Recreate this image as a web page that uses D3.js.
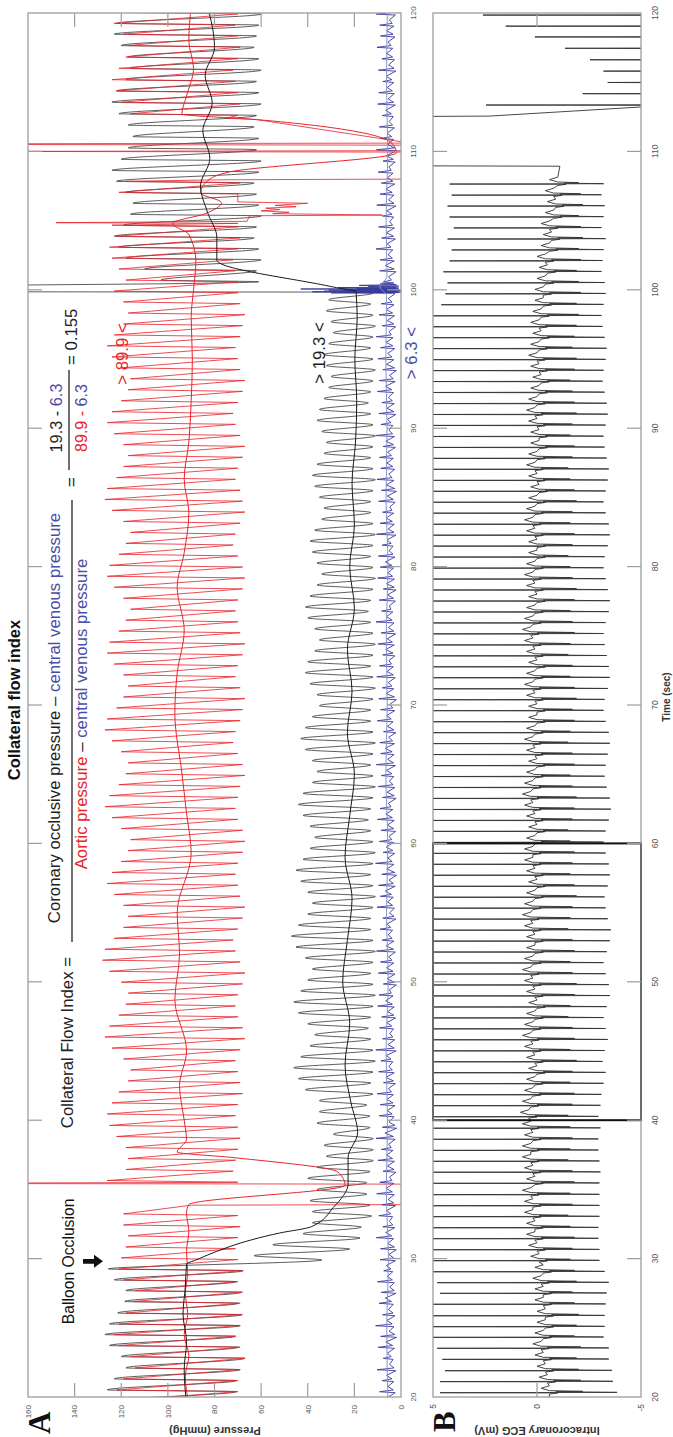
<!DOCTYPE html>
<html><head><meta charset="utf-8">
<script src="https://cdn.jsdelivr.net/npm/d3@7"></script>
<style>
html,body{margin:0;padding:0;background:#fff;}
svg{display:block;}
text{font-family:Arial,"Liberation Sans",sans-serif;}
text.letter{font-family:"Liberation Serif","Times New Roman",serif;}
</style></head><body>
<svg id="chart" width="673" height="1437"></svg>
<script>
// ---- beat-by-beat recording data ----
const beatTimes = [19.52,20.31,21.11,21.90,22.72,23.52,24.31,25.08,25.87,26.70,27.49,28.26,29.05,29.85,30.64,31.44,32.23,33.03,33.82,34.62,35.44,36.24,37.03,37.82,38.62,39.42,40.25,41.05,
41.84,42.64,43.43,44.22,45.01,45.81,46.60,47.39,48.18,48.98,
49.77,50.56,51.36,52.15,52.94,53.73,54.53,55.32,56.11,56.90,
57.70,58.49,59.28,60.07,60.87,61.66,62.45,63.25,64.04,64.83,
65.62,66.42,67.21,68.00,68.79,69.59,70.38,71.17,71.97,72.76,
73.55,74.34,75.14,75.93,76.72,77.51,78.31,79.10,79.89,80.69,
81.48,82.27,83.06,83.86,84.65,85.44,86.23,87.03,87.82,88.61,
89.40,90.20,90.99,91.78,92.58,93.37,94.16,94.95,95.75,96.54,
97.33,98.12,98.92,99.71,100.50,101.30,102.09,102.88,103.67,104.47,
105.26,106.05,106.84,107.64,108.43,
109.23,110.05,110.87,111.70,112.52,
113.35,114.17,114.98,115.80,116.62,117.45,118.27,119.05,119.85];

// aortic pressure (mmHg) per beat
const aoSys = [120,122,119,114,116,121,123,121,118,115,114,119,121,
120,118,117,119,119,118,120,126,118,117,118,122,125,126,124,
121,117,116,119,124,127,125,121,118,117,
120,125,128,127,123,119,117,119,123,126,
124,120,117,116,120,124,127,125,121,118,
117,120,124,127,126,122,119,117,119,123,
126,125,121,118,116,119,123,126,125,121,
118,116,119,124,127,126,122,119,117,119,
123,126,124,120,117,116,120,124,126,123,
119,117,119,123,
118,121,124,125,122,124,120,118,121,118,117,118,117,116,119,116,120,122,124,121,118,117,119,123,125];
const aoDia = [69,70,70,69,67,69,71,69,68,69,68,70,68,
70,71,70,69,70,70,70,70,72,71,70,69,70,71,70,
68,69,70,71,69,67,68,70,71,70,
68,67,69,71,72,70,68,67,69,70,
71,70,68,67,68,70,71,70,69,67,
68,70,72,71,69,68,67,69,71,70,
68,67,69,70,71,70,68,67,68,70,
72,71,69,67,68,69,71,70,68,67,
69,71,72,70,68,67,69,70,71,69,
68,67,69,70,
70,71,72,70,69,70,71,72,70,69,70,71,70,72,71,70,69,70,71,72,70,69,70,71,70];

// coronary (distal) pressure (mmHg) per beat
const coSys = [124,126,123,118,120,125,127,125,121.5,118.5,118,123,125.5,
63,55,42,38,38,39,36,40,36,32,33,29,36,35,35,
41,44,46,43,39,37,40,44,46,43,
40,38,41,45,47,44,40,38,40,43,
45,42,39,37,39,42,44,42,38,36,
38,41,43,41,38,35,36,39,41,40,
37,35,37,40,41,39,36,34,36,38,
39,37,34,33,35,37,38,36,33,32,
34,36,35,33,31,30,32,33,31,29,
30,32,31,30,
103,110,118,121,123,119,116,115,118,122,124,120,117,115,117,121,124,122,118,116,117,120,123,122,119];
const coDia = [69.5,70.5,70.5,69,67,69.8,71,69,68.4,69.8,68.4,70.5,67.7,
34,22,17.6,17,12.6,13.3,14.7,14.7,13.3,11.9,11.9,11.9,13.3,13.3,14.7,
12,13,12,11,12,13,14,13,12,11,
12,13,12,11,12,13,13,12,11,12,
13,12,11,12,13,14,13,12,11,12,
13,12,11,12,13,13,12,11,12,13,
12,11,12,13,14,13,12,11,12,13,
12,11,12,13,13,12,11,12,13,12,
11,12,13,14,13,12,11,12,13,12,
11,12,13,12,
61,62,60,61,63,62,60,61,62,63,61,60,62,61,63,62,60,61,62,60,61,63,62,61,60];

// central venous pressure (mmHg) per beat
const cvpLo = [2.7,2.5,3.1,2.2,3.4,2.8,1.9,3.0,2.6,3.3,2.1,
2.9,3.5,2.4,2.0,3.2,2.7,3.6,2.3,2.9,3.1,
2.2,2.8,3.4,2.5,1.8,3.0,2.6,3.3,2.4,2.9,
3.5,2.1,2.7,3.2,2.3,2.9,3.4,2.0,2.6,3.1,
2.4,3.0,3.6,2.2,2.8,3.3,2.5,1.9,3.0,2.7,
3.2,2.3,2.9,3.5,2.1,2.6,3.1,2.4,3.0,2.8,
2.2,3.4,2.7,2.0,3.1,2.5,3.3,2.6,2.9,2.3,
3.0,3.5,2.4,2.1,2.8,3.2,2.6,3.4,2.2,2.9,
3.1,2.5,1.9,3.0,2.7,3.3,2.4,2.8,3.5,2.2,
2.9,3.2,2.5,2.0,3.1,2.7,3.4,2.3,2.8,3.0,
2.6,3.3,2.1,2.9,3.5,2.4,2.8,3.1,2.2,3.0,
2.7,3.4,2.5,2.0,3.2,2.8,3.3,2.4,2.9,3.1,
2.2,2.8,3.5,2.6,3.0,2.4];
const cvpA = [8.8,9.2,8.1,10.3,7.6,9.8,8.7,10.9,7.9,9.4,8.5,
10.1,7.4,9.0,8.8,10.6,7.8,9.5,8.2,10.4,9.1,
7.7,9.9,8.4,10.7,8.0,9.3,8.9,10.2,7.5,9.6,
8.6,10.8,7.9,9.2,8.3,10.0,9.4,7.6,9.7,8.8,
10.5,8.1,9.0,7.8,10.3,8.9,9.6,8.2,10.9,7.7,
9.3,8.6,10.1,9.0,7.9,9.8,8.4,10.6,8.7,9.1,
7.5,10.2,8.8,9.5,8.0,10.4,9.2,7.8,9.9,8.5,
10.7,8.3,9.4,7.6,10.0,8.9,9.7,8.1,10.5,9.0,
7.9,9.6,8.4,10.3,8.7,9.2,7.7,10.8,8.6,9.5,
8.2,10.1,9.3,7.8,9.9,8.8,10.6,8.0,9.4,8.5,
10.2,7.6,9.1,8.9,10.7,8.3,9.6,7.9,10.4,9.0,
8.4,9.8,7.7,10.5,8.6,9.3,8.1,10.0,9.5,7.8,
9.7,8.2,10.3,8.8,9.1,10.6];
const cvpV = [5.7,5.6,6.2,4.9,5.8,6.5,5.1,6.0,5.4,6.7,4.8,
5.9,6.3,5.2,5.7,6.6,5.0,6.1,5.5,6.4,4.9,
5.8,6.2,5.3,6.8,5.1,5.9,6.0,5.4,6.5,5.2,
6.3,5.6,4.8,6.1,5.7,6.6,5.0,5.9,6.2,5.3,
6.4,5.5,6.0,4.9,5.8,6.7,5.2,6.1,5.6,6.3,
5.1,5.9,6.5,5.4,6.0,5.0,6.2,5.7,6.8,5.3,
5.8,6.1,4.9,6.4,5.5,6.0,5.2,6.6,5.9,5.4,
6.3,5.0,5.8,6.2,5.6,6.7,5.1,6.0,5.5,6.4,
4.8,5.9,6.3,5.3,6.1,5.7,6.5,5.2,5.8,6.0,
5.4,6.6,5.0,6.2,5.7,6.4,5.1,5.9,6.3,5.5,
6.0,5.3,6.8,5.6,5.9,6.2,4.9,6.1,5.4,6.5,
5.8,5.2,6.3,5.7,6.0,5.1,6.6,5.5,5.9,6.4,
5.3,6.1,5.6,6.2,5.0,5.8];

// smoothed (mean) pressures: [time s, mmHg]
const aoMean = [[19.5,91],[21.5,92.5],[23,91],[24.5,93],[26,91.5],[27.5,92.5],[29,91.5],[30.5,92],[32,91],[33.3,92],[33.9,91],
[35.3,24],[36.25,27],[37.3,72],[37.7,96],[38.6,92],[40,93],[42.5,95],[45,92],[48.7,97],[52,95],[55,96],[59.3,90],[62.2,92],
[65.1,94],[69.4,97],[72.3,96],[75.4,93],[78.5,96],[81,93],[83.9,91],[86.3,93],[89,91],[92,90],[95,89.5],[98,90],[100,89],
[102,88],[104,91],[104.8,98],[105.5,84],[106.3,77],[107,86],[108,82],[108.5,74],[109.9,2],[110.6,4],[112.3,62],[112.7,94],
[114,92],[116,89],[118,91],[120.5,90]];
const coMean = [[19.5,92],[22,93],[24,92],[26,93.5],[28,92.5],[29.6,92],[29.9,88],[31.85,52],[32.3,38.5],[33.7,29],[35.4,22.7],
[37.3,22.7],[39.1,18.6],[41.3,21.5],[44,24],[47,22],[50,25],[53,23],[56,21],[59,24],[62,22],[65,20],[68,23],[71,21],[74,23],
[77,20],[80,22],[83,20],[86,21],[89,19.5],[92,19],[95,19.8],[98,18.8],[99.85,19.3],[100.2,29],[102.15,79],[103.8,79],
[105.6,83],[107.5,86],[109.5,82],[111.5,85],[113.5,81],[115.5,84],[117.5,80],[120.5,83]];
const cvpMean = [[19.5,5.6],[25,6.1],[30,5.4],[35,6.3],[40,5.8],[45,6.4],[50,5.5],[55,6.2],[60,5.7],[65,6.5],[70,5.9],
[75,6.3],[80,5.6],[85,6.4],[90,6.0],[95,6.5],[99.6,6.2],[100.2,9],[101,6.0],[105,6.4],[110,5.7],[115,6.2],[120.5,5.8]];

// catheter flush / signal artifacts: [time s, mmHg]
const aoArtifact = [[33.86,90],[33.9,-4],[35.38,-4],[35.42,175],[35.46,175],[35.5,84],
[104.8,70],[104.85,148],[104.95,66],[105.35,65],[105.4,8],[105.5,55],[105.6,48],[105.7,60],[105.8,52],[105.9,58],[106.0,45],
[106.1,54],[106.25,40],[106.35,70],
[107.95,76],[108.0,-4],[109.95,-4],[110.0,175],[110.05,-4],[110.45,-4],[110.5,175],[110.55,175],[110.6,-4],[112.3,62],[112.4,75]];
const aoGaps = [[33.8,35.5],[104.75,106.4],[107.9,112.45]];
const coArtifact = [[99.83,19],[99.86,175],[100.3,175],[100.45,95]];
const coGaps = [[99.8,100.45]];
const cvpArtifact = [[99.75,3],[99.78,30],[99.8,1],[99.82,26],[99.84,0],[99.86,38],[99.88,2],[99.9,33],[99.92,1],[99.94,25],
[99.96,0],[99.98,31],[100.0,2],[100.02,22],[100.04,1],[100.06,43],[100.08,2],[100.1,19],[100.13,1],[100.16,27],[100.19,2],
[100.23,14],[100.27,1],[100.32,18],[100.37,2],[100.43,9],[100.48,3]];
const cvpGaps = [[99.72,100.5]];

// intracoronary ECG (mV) per beat, up to 108.4 s
const ecgR = [4.7,4.66,4.66,4.42,4.55,4.8,5.6,5.8,5.7,5.9,4.66,4.8,5.6,
6.0,6.2,5.9,6.1,6.3,5.8,6.0,6.2,6.1,5.9,6.3,6.0,6.2,5.8,6.1,6.0,
6.2,5.9,6.1,6.3,5.8,6.0,6.2,6.1,5.9,6.3,6.0,6.2,5.8,6.1,6.0,6.2,
5.9,6.1,6.3,5.8,6.0,6.2,6.1,5.9,6.3,6.0,6.2,5.8,6.1,6.0,6.2,5.9,
6.1,6.3,5.8,6.0,6.2,6.1,5.9,6.3,6.0,6.2,5.8,6.1,6.0,6.2,5.9,6.1,
6.3,5.8,6.0,6.2,6.1,5.9,6.3,6.0,6.2,5.8,6.1,6.0,6.2,5.9,6.1,6.3,
5.8,6.0,6.2,6.1,5.9,6.3,6.0,
4.6,4.4,4.3,4.5,4.2,4.1,4.3,4.0,4.2,4.3,4.1,4.2];
const ecgS = [-3.7,-3.85,-3.65,-3.6,-3.45,-3.45,-3.2,-3.25,-3.25,-3.3,-3.35,-3.45,-3.25,-3.0,-3.0,-2.95,-2.95,-3.0,-3.0,-3.0,-3.0,
-3.05,-3.0,-2.95,-2.95,-3.05,-2.95,-3.05,
-3.1,-3.2,-3.3,-3.15,-3.25,-3.4,-3.3,-3.2,-3.35,-3.5,
-3.45,-3.3,-3.2,-3.35,-3.5,-3.55,-3.4,-3.3,-3.25,-3.4,
-3.5,-3.45,-3.3,-3.2,-3.3,-3.45,-3.55,-3.5,-3.35,-3.25,
-3.3,-3.4,-3.5,-3.45,-3.3,-3.2,-3.25,-3.4,-3.5,-3.45,
-3.35,-3.25,-3.2,-3.3,-3.45,-3.5,-3.4,-3.3,-3.2,-3.25,
-3.4,-3.5,-3.45,-3.3,-3.2,-3.3,-3.4,-3.45,-3.35,-3.25,
-3.2,-3.3,-3.4,-3.35,-3.25,-3.15,-3.2,-3.3,-3.35,-3.25,
-3.15,-3.1,-3.2,-3.3,-3.25,-3.1,-3.15,-3.2,-3.3,-3.1,
-3.2,-3.25,-3.1,-3.2,-3.15];
const ecgS2 = [-1.9,-2.2,-2.1,-2.0,-1.9,-2.1,-1.8,-1.9,-2.0,-1.8,
-1.7,-1.9,-1.8,-1.6,-1.7,-1.8,-1.6,-1.5,-1.7,-1.6,
-1.8,-1.7,-1.5,-1.6,-1.7,-1.6,-1.5,-1.7,-1.8,-1.6,
-1.7,-1.9,-1.6,-1.8,-1.7,-1.5,-1.6,-1.8,-1.9,-1.7,
-1.6,-1.8,-1.7,-1.5,-1.6,-1.7,-1.9,-1.8,-1.6,-1.7,
-1.8,-1.6,-1.5,-1.7,-1.8,-1.9,-1.7,-1.6,-1.8,-1.7,
-1.5,-1.6,-1.8,-1.7,-1.9,-1.8,-1.6,-1.7,-1.5,-1.6,
-1.8,-1.7,-1.6,-1.8,-1.9,-1.7,-1.6,-1.5,-1.7,-1.8,
-1.6,-1.7,-1.9,-1.8,-1.6,-1.5,-1.7,-1.8,-1.6,-1.7,
-1.9,-1.8,-1.7,-1.6,-1.8,-1.9,-1.7,-1.8,-1.9,-2.0,
-1.9,-2.1,-2.0,-1.9,-2.1,-2.0,-2.2,-2.1,-2.0,-2.2,
-2.1,-2.0,-2.2];
const ecgBase = [-0.6,-0.6,-0.5,-0.4,-0.3,-0.2,-0.3,-0.4,-0.4,-0.3,-0.3,-0.2,-0.3,
-0.1,0.0,0.1,0.1,0.2,0.2,0.3,0.1,0.2,0.3,0.3,0.2,0.3,0.4,0.3,
0.2,0.1,0.0,0.1,0.2,0.3,0.2,0.1,0.0,0.1,
0.2,0.3,0.2,0.1,0.1,0.2,0.3,0.2,0.1,0.0,
0.1,0.2,0.2,0.1,0.0,0.1,0.2,0.3,0.2,0.1,
0.0,0.1,0.2,0.1,0.0,0.0,0.1,0.2,0.1,0.0,
0.1,0.2,0.3,0.2,0.1,0.0,0.1,0.2,0.1,0.0,
0.0,0.1,0.2,0.1,0.0,-0.1,0.0,0.1,0.0,-0.1,
-0.1,0.0,0.1,0.0,-0.1,-0.2,-0.1,0.0,-0.1,-0.2,
-0.1,-0.2,-0.3,
-0.3,-0.4,-0.5,-0.4,-0.6,-0.7,-0.6,-0.8,-0.9,-0.8,-1.0,-1.0];
// ECG signal leaving the display range around 109-113 s
const ecgDropout = [[108.93,-1.1],[108.97,9],[112.5,9],[112.55,2.3],[113.3,-6]];
// inverted/saturated complexes after 113 s: [R time, peak mV]
const ecgLate = [[113.35,2.45],[114.17,-2.2],[114.98,-3.4],[115.80,-3.2],[116.62,-2.55],[117.45,-1.35],[118.27,0.1],[119.05,1.5],[119.85,2.6]];

// axes
const timeTicks = [20,30,40,50,60,70,80,90,100,110,120];
const pressureTicks = [0,20,40,60,80,100,120,140,160];
const ecgTicks = [-5,0,5];
const selection = [40,60];

// ---- drawing ----
const W = 1437;
const svg = d3.select('#chart');
const root = svg.append('g').attr('transform', `translate(0,${W}) rotate(-90)`);

const x = d3.scaleLinear().domain([20,120]).range([40,1424]);
const yP = d3.scaleLinear().domain([0,160]).range([401,28]);
const yE = d3.scaleLinear().domain([-5,5]).range([641,433]);

const RED = '#e8242b', BLUE = '#383c9c', BLK = '#2a2a2a', FRAME = '#9d9d9d';

const defs = svg.append('defs');
defs.append('clipPath').attr('id','clipA').append('rect')
  .attr('x',x(20)).attr('y',yP(160)).attr('width',x(120)-x(20)).attr('height',yP(0)-yP(160));
defs.append('clipPath').attr('id','clipB').append('rect')
  .attr('x',x(20)).attr('y',yE(5)).attr('width',x(120)-x(20)).attr('height',yE(-5)-yE(5));

const inGap = (t, gaps) => gaps.some(g => t > g[0] && t < g[1]);

function pressurePoints(sys, dia, timing, gaps, extra) {
  let pts = [];
  beatTimes.forEach((t,i) => {
    if (sys[i] === undefined) return;
    const o = timing(t);
    pts.push([t + o[0], dia[i]]);
    pts.push([t + o[1], sys[i]]);
  });
  pts = pts.filter(p => !inGap(p[0], gaps)).concat(extra);
  pts.sort((a,b) => a[0]-b[0]);
  return pts;
}

const lineP = d3.line().x(d => x(d[0])).y(d => yP(d[1]));
const lineE = d3.line().x(d => x(d[0])).y(d => yE(d[1]));

const gA = root.append('g').attr('clip-path','url(#clipA)');

// coronary pressure (black)
const coPts = pressurePoints(coSys, coDia, t => (t < 29.5 || t > 100.3) ? [0.08, 0.2] : [0.05, 0.36], coGaps, coArtifact);
gA.append('path').attr('d', lineP.curve(d3.curveMonotoneX)(coPts))
  .attr('fill','none').attr('stroke',BLK).attr('stroke-width',0.9).attr('stroke-opacity',0.85);

// aortic pressure (red)
const aoPts = pressurePoints(aoSys, aoDia, () => [0.08, 0.2], aoGaps, aoArtifact);
gA.append('path').attr('d', lineP.curve(d3.curveLinear)(aoPts))
  .attr('fill','none').attr('stroke',RED).attr('stroke-width',0.9).attr('stroke-opacity',0.9);

// central venous pressure (blue)
let cvpPts = [];
beatTimes.forEach((t,i) => {
  cvpPts.push([t, cvpLo[i]], [t + 0.07, cvpA[i]], [t + 0.2, cvpLo[i] + 0.8], [t + 0.45, cvpV[i]]);
});
cvpPts = cvpPts.filter(p => !inGap(p[0], cvpGaps)).concat(cvpArtifact).sort((a,b) => a[0]-b[0]);
gA.append('path').attr('d', lineP.curve(d3.curveLinear)(cvpPts))
  .attr('fill','none').attr('stroke',BLUE).attr('stroke-width',0.9);

// smoothed means
gA.append('path').attr('d', lineP.curve(d3.curveMonotoneX)(aoMean))
  .attr('fill','none').attr('stroke',RED).attr('stroke-width',1);
gA.append('path').attr('d', lineP.curve(d3.curveMonotoneX)(coMean))
  .attr('fill','none').attr('stroke','#1a1a1a').attr('stroke-width',1);
gA.append('path').attr('d', lineP.curve(d3.curveMonotoneX)(cvpMean))
  .attr('fill','none').attr('stroke','#8d90d0').attr('stroke-width',1);

// ECG
const gB = root.append('g').attr('clip-path','url(#clipB)');
let ecgPts = [];
ecgR.forEach((r,i) => {
  const t = beatTimes[i], b = ecgBase[i];
  ecgPts.push([t-0.1,b],[t-0.015,b-0.4],[t,r],[t+0.025,ecgS[i]],[t+0.07,b-0.3],[t+0.1,ecgS2[i]],[t+0.15,b],[t+0.32,b+0.4],[t+0.5,b]);
});
ecgPts = ecgPts.concat(ecgDropout);
ecgLate.forEach(d => { ecgPts.push([d[0]-0.02,-6],[d[0],d[1]],[d[0]+0.02,-6]); });
ecgPts.push([120.5,-6]);
gB.append('path').attr('d', lineE(ecgPts))
  .attr('fill','none').attr('stroke','#333').attr('stroke-width',0.9);

// highlighted interval
root.append('rect').attr('x',x(selection[0])).attr('y',yE(5)).attr('width',x(selection[1])-x(selection[0]))
  .attr('height',yE(-5)-yE(5)).attr('fill','none').attr('stroke','#111').attr('stroke-width',2);

// frames and ticks
[[yP(160),yP(0)],[yE(5),yE(-5)]].forEach(([top,bot]) => {
  root.append('rect').attr('x',x(20)).attr('y',top).attr('width',x(120)-x(20)).attr('height',bot-top)
    .attr('fill','none').attr('stroke',FRAME).attr('stroke-width',1.3);
  timeTicks.slice(1,-1).forEach(t => {
    root.append('line').attr('x1',x(t)).attr('x2',x(t)).attr('y1',top).attr('y2',top+14).attr('stroke',FRAME).attr('stroke-width',1.2);
    root.append('line').attr('x1',x(t)).attr('x2',x(t)).attr('y1',bot).attr('y2',bot-14).attr('stroke',FRAME).attr('stroke-width',1.2);
  });
});
pressureTicks.slice(1,-1).forEach(p => {
  root.append('line').attr('x1',x(20)).attr('x2',x(20)+14).attr('y1',yP(p)).attr('y2',yP(p)).attr('stroke',FRAME).attr('stroke-width',1.2);
  root.append('line').attr('x1',x(120)).attr('x2',x(120)-14).attr('y1',yP(p)).attr('y2',yP(p)).attr('stroke',FRAME).attr('stroke-width',1.2);
});
ecgTicks.slice(1,-1).forEach(e => {
  root.append('line').attr('x1',x(20)).attr('x2',x(20)+14).attr('y1',yE(e)).attr('y2',yE(e)).attr('stroke',FRAME).attr('stroke-width',1.2);
  root.append('line').attr('x1',x(120)).attr('x2',x(120)-14).attr('y1',yE(e)).attr('y2',yE(e)).attr('stroke',FRAME).attr('stroke-width',1.2);
});

// tick labels
const tickFont = 8;
timeTicks.forEach(t => {
  root.append('text').attr('x',x(t)).attr('y',416).attr('text-anchor','middle').attr('font-size',tickFont).attr('fill','#555').text(t);
  root.append('text').attr('x',x(t)).attr('y',658).attr('text-anchor','middle').attr('font-size',tickFont+0.5).attr('fill','#555').text(t);
});
pressureTicks.forEach(p => {
  root.append('text').attr('x',32).attr('y',yP(p)).attr('dy','0.35em').attr('text-anchor','end').attr('font-size',tickFont).attr('fill','#555').text(p);
});
ecgTicks.forEach(e => {
  root.append('text').attr('x',33).attr('y',yE(e)).attr('dy','0.35em').attr('text-anchor','end').attr('font-size',tickFont+0.5).attr('fill','#555').text(e);
});

// axis titles
root.append('text').attr('transform','translate(10.5,215) rotate(-90)').attr('text-anchor','middle')
  .attr('font-size',11).attr('font-weight','bold').attr('fill','#333').text('Pressure (mmHg)');
root.append('text').attr('transform','translate(10.5,537) rotate(-90)').attr('text-anchor','middle')
  .attr('font-size',11).attr('font-weight','bold').attr('fill','#333').text('Intracoronary ECG (mV)');
root.append('text').attr('x',740).attr('y',670).attr('text-anchor','middle')
  .attr('font-size',10).attr('font-weight','bold').attr('fill','#333').text('Time (sec)');
root.append('text').attr('x',737).attr('y',20).attr('text-anchor','middle')
  .attr('font-size',16.5).attr('font-weight','bold').attr('fill','#111').text('Collateral flow index');

// panel letters
root.append('text').attr('class','letter').attr('x',3).attr('y',50)
  .attr('font-size',31).attr('font-weight','bold').attr('fill','#111').text('A');
root.append('text').attr('class','letter').attr('x',5).attr('y',455)
  .attr('font-size',31).attr('font-weight','bold').attr('fill','#111').text('B');

// balloon occlusion marker
const tOcc = 29.8;
root.append('text').attr('x',x(tOcc)).attr('y',74).attr('text-anchor','middle').attr('font-size',15.7).attr('fill','#111').text('Balloon Occlusion');
const ax = x(tOcc);
root.append('path').attr('d',`M${ax-2.3},83 L${ax+2.3},83 L${ax+2.3},94 L${ax+6.5},94 L${ax},103 L${ax-6.5},94 L${ax-2.3},94 Z`).attr('fill','#111');

// formula
const F = 16.8, TXT_BLUE = '#4a4ca8';
root.append('text').attr('x',480).attr('y',73).attr('text-anchor','end').attr('font-size',F).attr('fill','#222').text('Collateral Flow Index =');
const num = root.append('text').attr('x',719).attr('y',60).attr('text-anchor','middle').attr('font-size',F);
num.append('tspan').attr('fill','#222').text('Coronary occlusive pressure – ');
num.append('tspan').attr('fill',TXT_BLUE).text('central venous pressure');
root.append('line').attr('x1',495).attr('x2',937).attr('y1',72).attr('y2',72).attr('stroke','#222').attr('stroke-width',1.3);
const den = root.append('text').attr('x',723).attr('y',87).attr('text-anchor','middle').attr('font-size',F);
den.append('tspan').attr('fill',RED).text('Aortic pressure');
den.append('tspan').attr('fill','#222').text(' – ');
den.append('tspan').attr('fill',TXT_BLUE).text('central venous pressure');
root.append('text').attr('x',955).attr('y',77).attr('text-anchor','middle').attr('font-size',F).attr('fill','#222').text('=');
const n2 = root.append('text').attr('x',1019).attr('y',62).attr('text-anchor','middle').attr('font-size',F).attr('textLength',69).attr('lengthAdjust','spacingAndGlyphs');
n2.append('tspan').attr('fill','#222').text('19.3 - ');
n2.append('tspan').attr('fill',TXT_BLUE).text('6.3');
root.append('line').attr('x1',967).attr('x2',1067).attr('y1',69).attr('y2',69).attr('stroke','#222').attr('stroke-width',1.3);
const d2 = root.append('text').attr('x',1019).attr('y',87).attr('text-anchor','middle').attr('font-size',F).attr('textLength',68).attr('lengthAdjust','spacingAndGlyphs');
d2.append('tspan').attr('fill',RED).text('89.9 - ');
d2.append('tspan').attr('fill',TXT_BLUE).text('6.3');
root.append('text').attr('x',1072).attr('y',77).attr('font-size',F).attr('fill','#222').text('= 0.155');

// read-off values
root.append('text').attr('x',1083).attr('y',128).attr('text-anchor','middle').attr('font-size',F).attr('fill',RED).text('>  89.9  <');
root.append('text').attr('x',1084).attr('y',325).attr('text-anchor','middle').attr('font-size',F).attr('fill','#222').text('>  19.3  <');
root.append('text').attr('x',1084).attr('y',417).attr('text-anchor','middle').attr('font-size',F).attr('fill',TXT_BLUE).text('>  6.3  <');
</script></body></html>
